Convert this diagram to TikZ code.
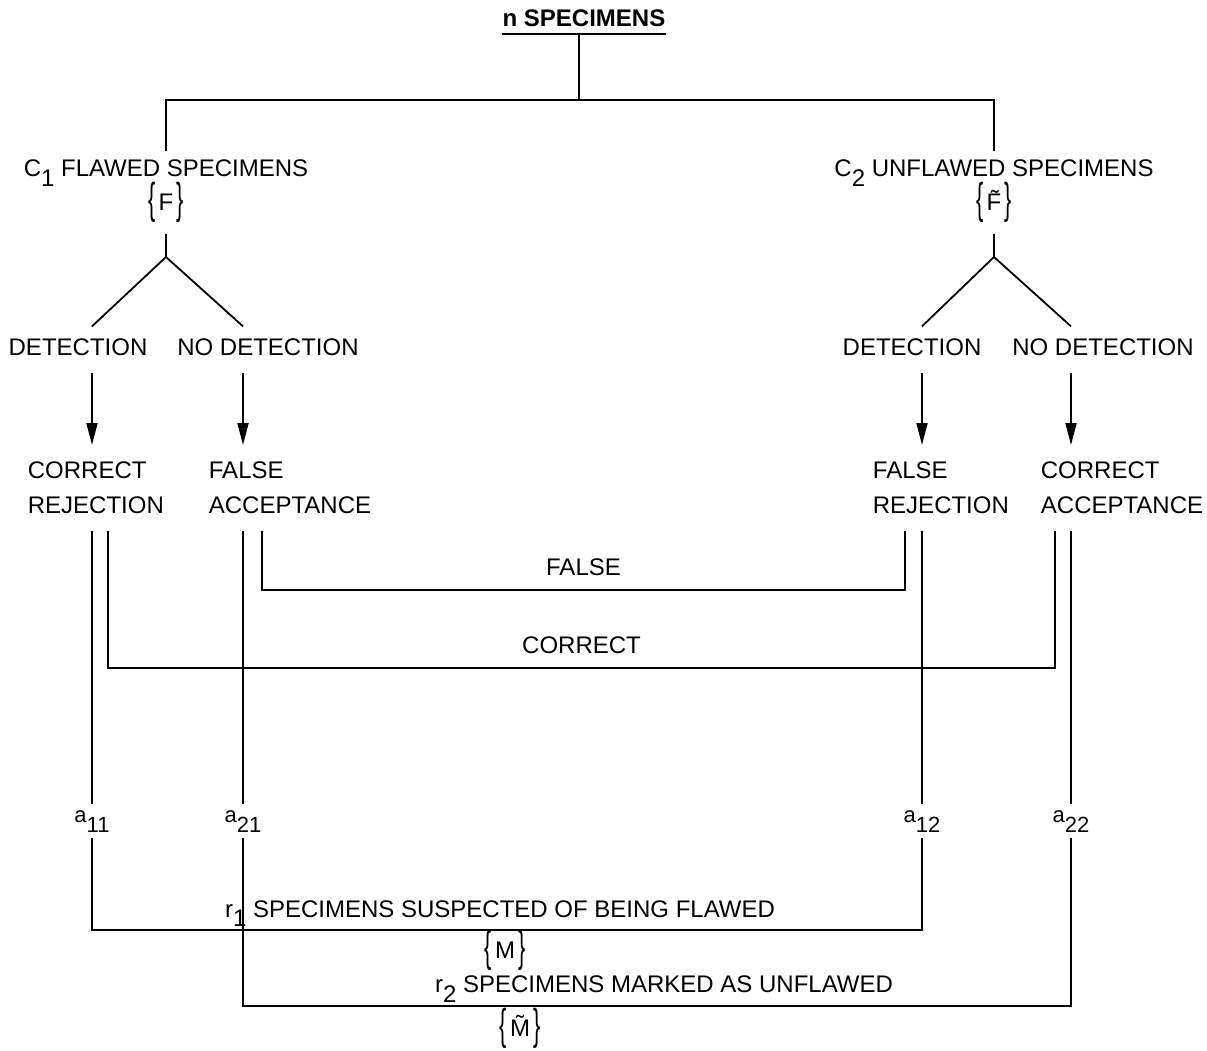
\documentclass[tikz,border=0pt]{standalone}
\usepackage{fontspec}
\setmainfont{Liberation Sans}
\usepackage{graphicx}
\usetikzlibrary{arrows.meta}

\newcommand{\lo}[1]{\raisebox{-10pt}{#1}}
\newcommand{\sm}[1]{\raisebox{-10pt}{#1}}
\newcommand{\brset}[1]{\raisebox{-3pt}{\scalebox{0.9}[1.8]{\{}}\kern3pt#1\kern3pt\raisebox{-3pt}{\scalebox{0.9}[1.8]{\}}}}

\begin{document}
\begin{tikzpicture}[x=1pt,y=-1pt,line width=1.8pt]
  \tikzstyle{every node}=[font=\fontsize{24}{35}\selectfont,inner sep=0pt,anchor=base]
  \tikzstyle{arr}=[-{Triangle[length=22pt,width=11pt]},shorten <=6pt]
  \tikzstyle{branch}=[inner ysep=11pt]
  \tikzstyle{twoline}=[align=left,anchor=north west,inner ysep=16pt]
  \tikzstyle{count}=[font=\fontsize{22}{22}\selectfont,inner ysep=5pt]
  \useasboundingbox (0,0) rectangle (1207,1051);

  % top of the tree
  \node (n) at (584,27) {\bfseries n SPECIMENS};
  \coordinate (ul) at ([yshift=-6pt]n.south);
  \draw (n.south west |- ul) -- (n.south east |- ul);
  \coordinate (top) at (579,100);
  \draw (ul -| top) -- (top);

  \node[inner ysep=8pt]  (c1) at (166,177) {C\lo{1} FLAWED SPECIMENS};
  \node[inner ysep=8pt]  (c2) at (994,177) {C\lo{2} UNFLAWED SPECIMENS};
  \draw (c1.north) |- (top) -| (c2.north);
  \node[inner ysep=10pt] (f1) at (166,211) {\brset{F}};
  \node[inner ysep=10pt] (f2) at (994,211) {\brset{\~F}};
  \coordinate (fk1) at (166,257);
  \coordinate (fk2) at (994,257);

  \node[branch] (d1)  at (78,355)   {DETECTION};
  \node[branch] (nd1) at (268,355)  {NO DETECTION};
  \node[branch] (d2)  at (912,355)  {DETECTION};
  \node[branch] (nd2) at (1103,355) {NO DETECTION};

  \node[twoline] (cr) at (27,445)   {CORRECT\\REJECTION};
  \node[twoline] (fa) at (208,445)  {FALSE\\ACCEPTANCE};
  \node[twoline] (fr) at (872,445)  {FALSE\\REJECTION};
  \node[twoline] (ca) at (1040,445) {CORRECT\\ACCEPTANCE};

  \node[count] (a11) at (92,822)   {a\sm{11}};
  \node[count] (a21) at (243,822)  {a\sm{21}};
  \node[count] (a12) at (922,822)  {a\sm{12}};
  \node[count] (a22) at (1071,822) {a\sm{22}};

  \draw (f1) -- (fk1) -- (d1.north -| a11);
  \draw (fk1) -- (nd1.north -| a21);
  \draw (f2) -- (fk2) -- (d2.north -| a12);
  \draw (fk2) -- (nd2.north -| a22);

  \draw[arr] (d1.south -| a11)  -- (cr.north -| a11);
  \draw[arr] (nd1.south -| a21) -- (fa.north -| a21);
  \draw[arr] (d2.south -| a12)  -- (fr.north -| a12);
  \draw[arr] (nd2.south -| a22) -- (ca.north -| a22);

  % false and correct
  \coordinate (fl1) at (262,590);
  \coordinate (fl2) at (905,590);
  \draw (fa.south -| fl1) -- (fl1) -- node[above=13pt] (false) {FALSE} (fl2) -- (fr.south -| fl2);
  \coordinate (k1) at (108,668);
  \coordinate (k2) at (1055,668);
  \draw (cr.south -| k1) -- (k1) -- node[above=13pt] (correct) {CORRECT} (k2) -- (ca.south -| k2);

  \draw (cr.south -| a11) -- (a11);
  \draw (fa.south -| a21) -- (a21);
  \draw (fr.south -| a12) -- (a12);
  \draw (ca.south -| a22) -- (a22);

  % marked sets
  \coordinate (p1) at (92,930);
  \coordinate (p2) at (922,930);
  \coordinate (q1) at (243,1006);
  \coordinate (q2) at (1071,1006);
  \draw (a11) -- (p1) -- (p2) -- (a12);
  \draw (a21) -- (q1) -- (q2) -- (a22);

  \node (r1) at (500,917)  {r\raisebox{-9pt}{1} SPECIMENS SUSPECTED OF BEING FLAWED};
  \node (m)  at (505,958)  {\brset{M}};
  \node (r2) at (664,992)  {r\lo{2} SPECIMENS MARKED AS UNFLAWED};
  \node (mt) at (520,1036) {\brset{\~M}};
\end{tikzpicture}
\end{document}
